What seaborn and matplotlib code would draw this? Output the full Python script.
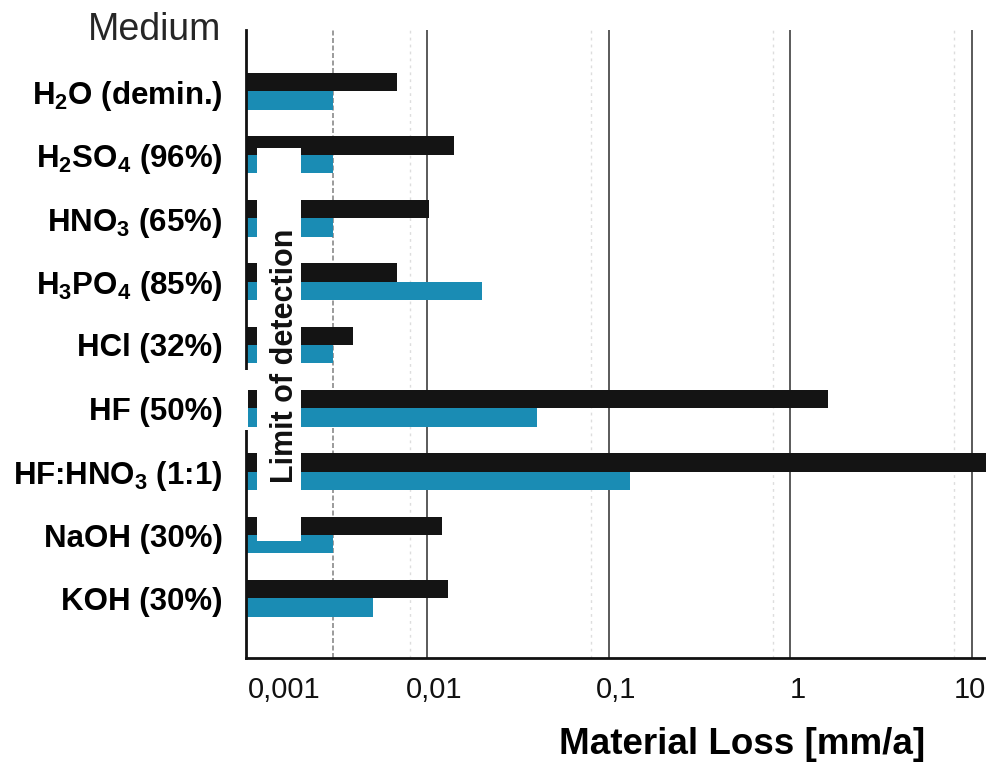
import matplotlib
matplotlib.use("Agg")
import matplotlib.pyplot as plt
from matplotlib.patches import Rectangle
from matplotlib.ticker import NullLocator
from matplotlib.transforms import ScaledTranslation
import numpy as np
import pandas as pd
import seaborn as sns

# Corrosion media (top to bottom)
media = [
    r"H$_\mathregular{2}$O (demin.)",
    r"H$_\mathregular{2}$SO$_\mathregular{4}$ (96%)",
    r"HNO$_\mathregular{3}$ (65%)",
    r"H$_\mathregular{3}$PO$_\mathregular{4}$ (85%)",
    "HCl (32%)",
    "HF (50%)",
    r"HF:HNO$_\mathregular{3}$ (1:1)",
    "NaOH (30%)",
    "KOH (30%)",
]

# Material loss in mm/a for the two materials
loss_dark = [0.0068, 0.014, 0.0102, 0.0068, 0.0039, 1.6, 20.0, 0.012, 0.013]
loss_blue = [0.003, 0.003, 0.003, 0.020, 0.003, 0.040, 0.13, 0.003, 0.005]

series_names = ["Material A", "Material B"]
tick_values = [0.001, 0.01, 0.1, 1, 10]
tick_labels = ["0,001", "0,01", "0,1", "1", "10"]

df = pd.DataFrame({
    "medium": media * 2,
    "loss": loss_dark + loss_blue,
    "material": [series_names[0]] * len(media) + [series_names[1]] * len(media),
})

sns.set_style("white")
plt.rcParams["font.family"] = ["Liberation Sans", "DejaVu Sans"]
plt.rcParams["mathtext.fontset"] = "custom"

W, H = 987, 765
fig = plt.figure(figsize=(W / 100, H / 100), dpi=100)
ax = fig.add_axes([246 / W, 107 / H, (1009 - 246) / W, (735 - 107) / H])
ax.set_xscale("log")

sns.barplot(
    data=df, x="loss", y="medium", hue="material", orient="h",
    palette=["#141414", "#1a8cb4"], width=0.58, saturation=1,
    errorbar=None, legend=False, linewidth=0, ax=ax,
)

ax.set_xlim(0.001, 16)
ax.set_ylim(8.94, -0.97)
ax.set_xlabel("")
ax.set_ylabel("")

# x axis: decades only
ax.set_xticks(tick_values)
ax.set_xticklabels(tick_labels)
ax.xaxis.set_minor_locator(NullLocator())
ax.tick_params(axis="x", which="major", direction="out", length=8, width=1.2,
               color="#222222", pad=5, labelsize=21, labelcolor="#111111")
ax.tick_params(axis="y", length=0, pad=17, labelsize=22.5)
for lbl in ax.get_yticklabels():
    lbl.set_fontweight("bold")
    lbl.set_color("black")

# decade labels sit slightly right of their ticks; the first one starts at the
# axis and the last one is kept inside the figure edge
offsets_px = [2, 7, 7, 7, -2]
xlabels = ax.get_xticklabels()
for lbl, dx in zip(xlabels, offsets_px):
    lbl.set_transform(lbl.get_transform()
                      + ScaledTranslation(dx / 100, 0, fig.dpi_scale_trans))
xlabels[0].set_horizontalalignment("left")

# vertical grid lines
ax.set_axisbelow(True)
ax.grid(axis="x", which="major", color="#5a5a5a", linewidth=1.4)
ax.grid(axis="y", visible=False)
ax.axvline(0.003, color="#8a8a8a", linewidth=1.2, linestyle=(0, (3, 1.5)), zorder=0.6)
for v in [0.008, 0.08, 0.8, 8]:
    ax.axvline(v, color="#dddddd", linewidth=1.0, linestyle=(0, (2, 3)), zorder=0.6)

for side in ["top", "right"]:
    ax.spines[side].set_visible(False)
for side in ["left", "bottom"]:
    ax.spines[side].set_color("#111111")
    ax.spines[side].set_linewidth(2)

# detection-limit band
ax.add_patch(Rectangle((0.00115, 0.89), 0.002 - 0.00115, 7.1 - 0.89,
                       facecolor="white", edgecolor="none", zorder=3))
ax.text(0.00164, 4.17, "Limit of detection", rotation=90, ha="center", va="center",
        fontsize=22, fontweight="bold", color="#111111", zorder=4)

# white backing behind the HF label
ax.yaxis.set_zorder(3)
ax.add_patch(Rectangle((83 / W, 1 - 430 / H), (248 - 83) / W, 60 / H,
                       transform=fig.transFigure, facecolor="white",
                       edgecolor="none", clip_on=False, zorder=2.8))

fig.text(88 / W, 1 - 40 / H, "Medium", fontsize=27, color="#262626",
         ha="left", va="baseline")
fig.text(742 / W, 1 - 754 / H, "Material Loss [mm/a]", fontsize=26.5,
         fontweight="bold", color="black", ha="center", va="baseline")

fig.savefig("out.png", dpi=100)
